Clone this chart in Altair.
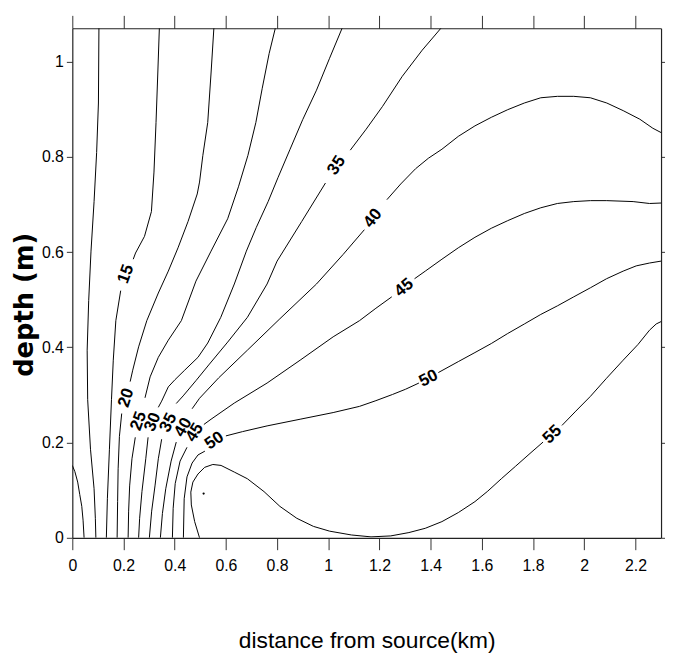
import altair as alt
import pandas as pd

# ---- axis ticks ----
x_ticks = [0, 0.2, 0.4, 0.6, 0.8, 1.0, 1.2, 1.4, 1.6, 1.8, 2.0, 2.2]
y_ticks = [0, 0.2, 0.4, 0.6, 0.8, 1.0]

# ---- contour paths (x: km, y: m); None = gap for a label ----
x5 = [0.0, 0.010, 0.021, 0.029, 0.037, 0.042, 0.046]
y5 = [0.152, 0.139, 0.117, 0.091, 0.066, 0.037, 0.0]

x10 = [0.104, 0.102, 0.095, 0.085, 0.073, 0.064, 0.058, 0.060, 0.071, 0.085, 0.090, 0.092]
y10 = [1.07, 0.913, 0.809, 0.706, 0.602, 0.498, 0.394, 0.290, 0.186, 0.103, 0.041, 0.0]

x15 = [0.340, 0.334, 0.327, 0.319, 0.309, 0.282, 0.247, 0.238, None, 0.189, 0.170, 0.160, 0.153, 0.145, 0.137, 0.133]
y15 = [1.07, 0.976, 0.872, 0.768, 0.685, 0.633, 0.598, 0.585, None, 0.519, 0.456, 0.373, 0.290, 0.186, 0.082, 0.0]

x20 = [0.553, 0.542, 0.529, 0.510, 0.497, 0.488, 0.452, 0.413, 0.375, 0.336, 0.291, 0.259, 0.236, 0.226, None,
       0.193, 0.184, 0.179, 0.177, 0.175]
y20 = [1.07, 0.976, 0.872, 0.803, 0.747, 0.722, 0.664, 0.609, 0.560, 0.514, 0.456, 0.401, 0.352, 0.328, None,
       0.261, 0.213, 0.145, 0.076, 0.0]

x25 = [0.793, 0.769, 0.742, 0.717, 0.686, 0.649, 0.607, 0.542, 0.483, 0.426, 0.375, 0.336, 0.304, 0.284, None,
       0.246, 0.233, 0.224, 0.220, 0.218]
y25 = [1.07, 1.017, 0.944, 0.872, 0.803, 0.737, 0.670, 0.602, 0.539, 0.456, 0.415, 0.379, 0.338, 0.294, None,
       0.211, 0.166, 0.109, 0.056, 0.0]

x30 = [1.054, 1.005, 0.954, 0.900, 0.850, 0.804, 0.765, 0.719, 0.680, 0.633, 0.580, 0.529, 0.491, 0.439, 0.401,
       0.375, 0.349, 0.336, None, 0.296, 0.287, 0.272, 0.263, 0.259]
y30 = [1.07, 1.007, 0.940, 0.878, 0.815, 0.757, 0.706, 0.652, 0.602, 0.533, 0.463, 0.409, 0.379, 0.352, 0.332,
       0.317, 0.287, 0.274, None, 0.211, 0.166, 0.097, 0.041, 0.0]

x35 = [1.440, 1.367, 1.289, 1.212, 1.148, 1.086, None,
       0.989, 0.896, 0.800, 0.761, 0.684, 0.607, 0.533, 0.483, 0.433, 0.406, None,
       0.349, 0.336, 0.323, 0.310, 0.301]
y35 = [1.07, 1.024, 0.969, 0.906, 0.858, 0.814, None,
       0.745, 0.664, 0.581, 0.533, 0.463, 0.411, 0.363, 0.330, 0.298, 0.282, None,
       0.207, 0.166, 0.109, 0.056, 0.0]

x40 = [2.3, 2.268, 2.217, 2.152, 2.088, 2.024, 1.959, 1.895, 1.830, 1.766, 1.701, 1.637, 1.573, 1.508, 1.444,
       1.391, 1.341, 1.283, 1.229, None,
       1.141, 1.058, 0.954, 0.811, 0.684, 0.572, 0.497, 0.468, None,
       0.406, 0.386, 0.365, 0.352, 0.344]
y40 = [0.851, 0.860, 0.879, 0.897, 0.913, 0.924, 0.927, 0.927, 0.924, 0.913, 0.899, 0.883, 0.865, 0.843, 0.816,
       0.797, 0.775, 0.743, 0.710, None,
       0.647, 0.595, 0.533, 0.460, 0.394, 0.336, 0.293, 0.271, None,
       0.201, 0.161, 0.103, 0.051, 0.0]

x45 = [2.3, 2.255, 2.191, 2.088, 2.024, 1.959, 1.895, 1.830, 1.766, 1.701, 1.637, 1.573, 1.508, 1.444, 1.379,
       1.337, None,
       1.248, 1.186, 1.122, 1.019, 0.890, 0.761, 0.633, 0.542, 0.514, None,
       0.448, 0.421, 0.402, 0.394, 0.391]
y45 = [0.703, 0.702, 0.706, 0.708, 0.708, 0.706, 0.702, 0.693, 0.681, 0.666, 0.650, 0.631, 0.609, 0.585, 0.560,
       0.544, None,
       0.506, 0.482, 0.456, 0.422, 0.373, 0.325, 0.283, 0.249, 0.238, None,
       0.190, 0.161, 0.114, 0.062, 0.0]

x50 = [2.3, 2.255, 2.203, 2.152, 2.087, 2.024, 1.959, 1.895, 1.830, 1.766, 1.701, 1.637, 1.573, 1.508, 1.430, None,
       1.354, 1.302, 1.251, 1.186, 1.122, 1.019, 0.890, 0.761, 0.665, 0.600, None,
       0.518, 0.491, 0.468, 0.448, 0.437, 0.434]
y50 = [0.581, 0.577, 0.571, 0.560, 0.544, 0.525, 0.506, 0.487, 0.469, 0.449, 0.429, 0.408, 0.389, 0.370, 0.347, None,
       0.325, 0.312, 0.301, 0.288, 0.276, 0.263, 0.249, 0.235, 0.223, 0.214, None,
       0.182, 0.174, 0.157, 0.128, 0.082, 0.0]

x55 = [0.497, 0.478, 0.465, 0.463, 0.471, 0.491, 0.517, 0.549, 0.581, 0.633, 0.684, 0.749, 0.811, 0.877, 0.942,
       1.005, 1.090, 1.167, 1.244, 1.315, 1.379, 1.444, 1.508, 1.573, 1.623, 1.676, 1.731, 1.792, 1.839, None,
       1.913, 1.967, 2.024, 2.087, 2.152, 2.210, 2.255, 2.281, 2.3]
y55 = [0.0, 0.034, 0.069, 0.096, 0.117, 0.134, 0.148, 0.154, 0.152, 0.138, 0.124, 0.097, 0.066, 0.041, 0.024,
       0.014, 0.006, 0.002, 0.004, 0.011, 0.020, 0.034, 0.053, 0.076, 0.098, 0.124, 0.150, 0.179, 0.201, None,
       0.236, 0.266, 0.297, 0.335, 0.373, 0.406, 0.436, 0.449, 0.454]

# ---- inline contour labels ----
label_text = ["15", "20", "25", "30", "35", "40", "45", "50", "35", "40", "45", "50", "55"]
label_x = [0.209, 0.210, 0.259, 0.314, 0.375, 0.433, 0.478, 0.555, 1.032, 1.174, 1.296, 1.392, 1.875]
label_y = [0.554, 0.294, 0.245, 0.243, 0.242, 0.232, 0.221, 0.204, 0.782, 0.671, 0.525, 0.335, 0.217]
label_angle = [290, 288, 290, 292, 297, 300, 302, 325, 303, 308, 320, 333, 316]

# tiny closed contour (dot)
dot_x = [0.513]
dot_y = [0.093]

# ---- build tables ----
contours = [(5, x5, y5), (10, x10, y10), (15, x15, y15), (20, x20, y20), (25, x25, y25),
            (30, x30, y30), (35, x35, y35), (40, x40, y40), (45, x45, y45), (50, x50, y50),
            (55, x55, y55)]
rows = []
seg = 0
for level, xs, ys in contours:
    seg += 1
    for xv, yv in zip(xs, ys):
        if xv is None:
            seg += 1
            continue
        rows.append({"x": xv, "y": yv, "level": level, "seg": seg, "order": len(rows)})
lines_df = pd.DataFrame(rows)
labels_df = pd.DataFrame({"x": label_x, "y": label_y, "label": label_text, "angle": label_angle})
dot_df = pd.DataFrame({"x": dot_x, "y": dot_y})

SANS = "Liberation Sans, Arial, sans-serif"

xscale = alt.Scale(domain=[0, 2.3], nice=False, zero=False)
yscale = alt.Scale(domain=[0, 1.07], nice=False, zero=False)

common = dict(grid=False, domainColor="#222222", domainWidth=1.2, tickColor="#333333", tickWidth=1)

bottom_axis = alt.Axis(orient="bottom", values=x_ticks, format="~g", tickSize=12,
                       labelFont=SANS, labelFontSize=16, labelColor="black", labelPadding=8,
                       labelFlush=False, labelOverlap=False,
                       title="distance from source(km)", titleFont=SANS, titleFontSize=23,
                       titleFontWeight="normal", titleColor="black", titleY=111,
                       titleBaseline="alphabetic", **common)
left_axis = alt.Axis(orient="left", values=y_ticks, format="~g", tickSize=6,
                     labelFont=SANS, labelFontSize=16, labelColor="black", labelPadding=3,
                     labelFlush=False, labelOverlap=False,
                     title="depth (m)", titleFont="DejaVu Sans", titleFontSize=26,
                     titleFontWeight="bold", titleColor="black", titleAngle=270,
                     titleX=-40, titleY=279, titleAlign="center", titleBaseline="alphabetic",
                     **common)
top_axis = alt.Axis(orient="top", values=x_ticks, labels=False, tickSize=13, title=None, **common)
right_axis = alt.Axis(orient="right", values=y_ticks, labels=False, tickSize=4, title=None, **common)

lines = alt.Chart(lines_df).mark_line(color="black", strokeWidth=1, clip=True).encode(
    x=alt.X("x:Q", scale=xscale, axis=bottom_axis),
    y=alt.Y("y:Q", scale=yscale, axis=left_axis),
    detail="seg:N",
    order="order:Q",
)

labels = alt.Chart(labels_df).mark_text(
    font=SANS, fontSize=17, fontWeight="bold", color="black", align="center", baseline="middle"
).encode(
    x=alt.X("x:Q", scale=xscale, axis=top_axis),
    y=alt.Y("y:Q", scale=yscale, axis=right_axis),
    text="label:N",
    angle=alt.Angle("angle:Q", scale=None),
)

dot = alt.Chart(dot_df).mark_circle(color="black", size=5, opacity=1).encode(
    x=alt.X("x:Q", scale=xscale, axis=None),
    y=alt.Y("y:Q", scale=yscale, axis=None),
)

chart = alt.layer(lines, labels, dot).resolve_axis(
    x="independent", y="independent"
).properties(
    width=595, height=515,
    autosize=alt.AutoSizeParams(type="none"),
    padding={"left": 65, "top": 17, "right": 4, "bottom": 117},
    background="white",
).configure_view(stroke=None)

chart.save("out.html", embed_options={"renderer": "svg", "actions": False})
